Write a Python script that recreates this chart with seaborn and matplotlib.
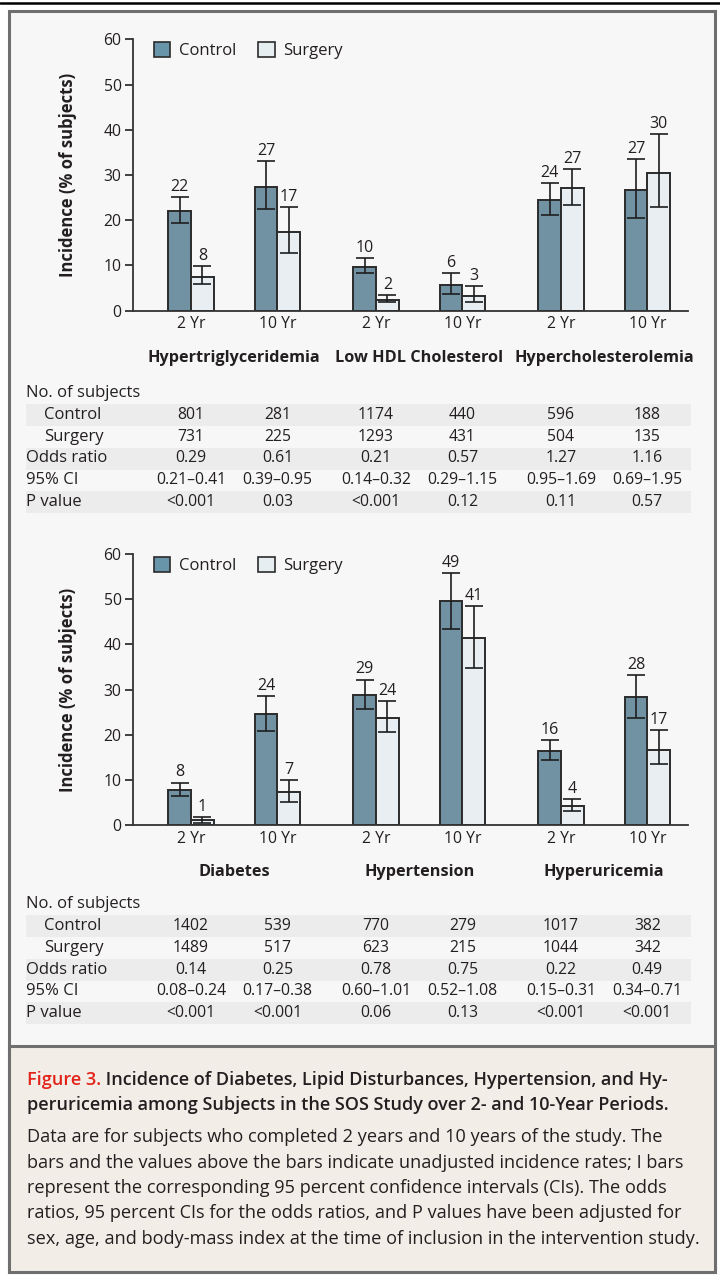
import matplotlib
matplotlib.use("Agg")
import matplotlib.pyplot as plt
import seaborn as sns
import numpy as np
import pandas as pd
from matplotlib.patches import Rectangle, Patch
from matplotlib.lines import Line2D
from matplotlib.transforms import blended_transform_factory

# ---------------- data ----------------
periods = ["2 Yr", "10 Yr"]
series = ["Control", "Surgery"]

top_groups = ["Hypertriglyceridemia", "Low HDL Cholesterol", "Hypercholesterolemia"]
top_ctrl = [22.0, 27.4, 9.7, 5.7, 24.5, 26.6]
top_ctrl_lo = [19.3, 22.4, 8.3, 3.8, 21.1, 20.5]
top_ctrl_hi = [25.2, 33.0, 11.6, 8.4, 28.3, 33.6]
top_surg = [7.5, 17.3, 2.4, 3.2, 27.2, 30.5]
top_surg_lo = [6.0, 12.7, 1.85, 1.9, 23.3, 22.9]
top_surg_hi = [9.9, 23.0, 3.5, 5.5, 31.3, 39.1]
top_ctrl_lab = ["22", "27", "10", "6", "24", "27"]
top_surg_lab = ["8", "17", "2", "3", "27", "30"]
top_n_ctrl = ["801", "281", "1174", "440", "596", "188"]
top_n_surg = ["731", "225", "1293", "431", "504", "135"]
top_or = ["0.29", "0.61", "0.21", "0.57", "1.27", "1.16"]
top_ci = ["0.21\u20130.41", "0.39\u20130.95", "0.14\u20130.32", "0.29\u20131.15", "0.95\u20131.69", "0.69\u20131.95"]
top_p = ["<0.001", "0.03", "<0.001", "0.12", "0.11", "0.57"]

bot_groups = ["Diabetes", "Hypertension", "Hyperuricemia"]
bot_ctrl = [7.8, 24.6, 28.8, 49.6, 16.4, 28.3]
bot_ctrl_lo = [6.4, 20.9, 25.6, 43.5, 14.3, 23.7]
bot_ctrl_hi = [9.4, 28.5, 32.2, 55.7, 18.9, 33.3]
bot_surg = [1.0, 7.2, 23.8, 41.5, 4.1, 16.7]
bot_surg_lo = [0.5, 5.1, 20.5, 34.8, 3.2, 13.5]
bot_surg_hi = [1.8, 9.9, 27.5, 48.5, 5.7, 21.1]
bot_ctrl_lab = ["8", "24", "29", "49", "16", "28"]
bot_surg_lab = ["1", "7", "24", "41", "4", "17"]
bot_n_ctrl = ["1402", "539", "770", "279", "1017", "382"]
bot_n_surg = ["1489", "517", "623", "215", "1044", "342"]
bot_or = ["0.14", "0.25", "0.78", "0.75", "0.22", "0.49"]
bot_ci = ["0.08\u20130.24", "0.17\u20130.38", "0.60\u20131.01", "0.52\u20131.08", "0.15\u20130.31", "0.34\u20130.71"]
bot_p = ["<0.001", "<0.001", "0.06", "0.13", "<0.001", "<0.001"]

row_labels = ["Control", "Surgery", "Odds ratio", "95% CI", "P value"]
y_ticks = [0, 10, 20, 30, 40, 50, 60]
y_label = "Incidence (% of subjects)"

caption_red = "Figure 3."
caption_title1 = " Incidence of Diabetes, Lipid Disturbances, Hypertension, and Hy-"
caption_title2 = "peruricemia among Subjects in the SOS Study over 2- and 10-Year Periods."
caption_body = [
    "Data are for subjects who completed 2 years and 10 years of the study. The",
    "bars and the values above the bars indicate unadjusted incidence rates; I bars",
    "represent the corresponding 95 percent confidence intervals (CIs). The odds",
    "ratios, 95 percent CIs for the odds ratios, and P values have been adjusted for",
    "sex, age, and body-mass index at the time of inclusion in the intervention study.",
]

# ---------------- style ----------------
sns.set_style("ticks")
plt.rcParams["font.family"] = ["Open Sans", "DejaVu Sans"]
TXT = "#231f20"
C_CTRL = "#6995ab"
C_SURG = "#e7eef2"
EDGE = "#2b2b2b"
PANEL = "#f7f7f7"
BAND = "#ececec"
FRAME = "#6f6f6f"
CAP_BG = "#f2ede7"
RED = "#e2231a"

W, H = 720, 1280
fig = plt.figure(figsize=(7.2, 12.8), dpi=100)
fx = lambda x: x / W
fy = lambda y: 1 - y / H

# background panels
fig.patches.append(Rectangle((fx(8.5), fy(1271.5)), fx(706), (1263 - 2) / H,
                             transform=fig.transFigure, facecolor=PANEL,
                             edgecolor=FRAME, linewidth=2.2, zorder=-10))
fig.patches.append(Rectangle((fx(8.5), fy(1271.5)), fx(706), (1271.5 - 1046) / H,
                             transform=fig.transFigure, facecolor=CAP_BG,
                             edgecolor=FRAME, linewidth=2.2, zorder=-9))
fig.add_artist(Line2D([0, 1], [fy(2.5), fy(2.5)], transform=fig.transFigure,
                      color="black", linewidth=1.8))

GROUP_STEP = 2.143
BAR_W = 0.526
FS_TICK = 11.3
FS_VAL = 11.5
FS_TAB_LAB = 12
FS_TAB_NUM = 11.3


def make_df(ctrl, surg):
    rows = []
    for i, (c, s) in enumerate(zip(ctrl, surg)):
        pos = (i // 2) * GROUP_STEP + (i % 2)
        rows.append({"pos": pos, "series": "Control", "value": c})
        rows.append({"pos": pos, "series": "Surgery", "value": s})
    return pd.DataFrame(rows)


def panel(ax_rect, groups, ctrl, ctrl_lo, ctrl_hi, surg, surg_lo, surg_hi,
          ctrl_lab, surg_lab, table, table_y, head_y, group_y):
    ax = fig.add_axes(ax_rect)
    ax.set_facecolor("none")
    df = make_df(ctrl, surg)
    sns.barplot(data=df, x="pos", y="value", hue="series", hue_order=series,
                native_scale=True, palette=[C_CTRL, C_SURG], width=BAR_W,
                errorbar=None, edgecolor=EDGE, linewidth=1.4, legend=False,
                ax=ax, zorder=2)
    stats = [(ctrl, ctrl_lo, ctrl_hi, ctrl_lab), (surg, surg_lo, surg_hi, surg_lab)]
    for cont, (vals, lo, hi, labs) in zip(ax.containers, stats):
        pts = sorted(cont.patches, key=lambda p: p.get_x())
        xc = np.array([p.get_x() + p.get_width() / 2 for p in pts])
        vals = np.array(vals); lo = np.array(lo); hi = np.array(hi)
        ax.errorbar(xc, vals, yerr=[vals - lo, hi - vals], fmt="none",
                    ecolor="#1e1e1e", elinewidth=1.2, capsize=6.5,
                    capthick=1.2, zorder=3)
        for x, h, lab in zip(xc, hi, labs):
            ax.annotate(lab, xy=(x, h), xytext=(0, 1.5), textcoords="offset points",
                        ha="center", va="bottom", fontsize=FS_VAL, color=TXT)
    pos = sorted(df["pos"].unique())
    ax.set_xlim(pos[0] - 0.677, pos[-1] + 0.472)
    ax.set_ylim(0, 60)
    ax.set_yticks(y_ticks)
    ax.set_xticks(pos)
    ax.set_xticklabels([periods[i % 2] for i in range(len(pos))])
    ax.tick_params(axis="x", length=0, pad=4, labelsize=FS_TICK, colors=TXT)
    ax.tick_params(axis="y", length=6, width=1.2, pad=2, labelsize=FS_TICK,
                   colors=TXT, direction="out")
    for s in ["top", "right"]:
        ax.spines[s].set_visible(False)
    for s in ["left", "bottom"]:
        ax.spines[s].set_linewidth(1.3)
        ax.spines[s].set_color("#333333")
    ax.set_xlabel("")
    ax.set_ylabel(y_label, fontsize=12, fontweight="bold", color=TXT, labelpad=19)
    handles = [Patch(facecolor=C_CTRL, edgecolor=EDGE, linewidth=1.2),
               Patch(facecolor=C_SURG, edgecolor=EDGE, linewidth=1.2)]
    ax.legend(handles, series, loc="upper left", bbox_to_anchor=(0.038, 0.99),
              ncol=2, frameon=False, handlelength=1.0, handleheight=1.0,
              handletextpad=0.5, columnspacing=1.3, borderpad=0,
              borderaxespad=0, fontsize=12, labelcolor=TXT)
    # group labels
    tr = blended_transform_factory(ax.transData, fig.transFigure)
    for g, name in enumerate(groups):
        gc = (pos[2 * g] + pos[2 * g + 1]) / 2
        fig.text(gc, fy(group_y), name, transform=tr, ha="center", va="center",
                 fontsize=11.7, fontweight="bold", color=TXT)
    # table
    fig.text(fx(26), fy(head_y), "No. of subjects", ha="left", va="center",
             fontsize=FS_TAB_LAB, color=TXT)
    for r, (lab, vals) in enumerate(zip(row_labels, table)):
        yc = table_y[r]
        if r % 2 == 0:
            fig.patches.append(Rectangle((fx(26), fy(yc + 11)), fx(665), 22 / H,
                                         transform=fig.transFigure,
                                         facecolor=BAND, edgecolor="none", zorder=-5))
        xl = 44 if r < 2 else 26
        fig.text(fx(xl), fy(yc), lab, ha="left", va="center", fontsize=FS_TAB_LAB,
                 color=TXT)
        for x, v in zip(pos, vals):
            fig.text(x, fy(yc), v, transform=tr, ha="center", va="center",
                     fontsize=FS_TAB_NUM, color=TXT)
    return ax


panel([fx(132.7), fy(310.7), fx(688 - 132.7), (310.7 - 39.3) / H], top_groups,
      top_ctrl, top_ctrl_lo, top_ctrl_hi, top_surg, top_surg_lo, top_surg_hi,
      top_ctrl_lab, top_surg_lab,
      [top_n_ctrl, top_n_surg, top_or, top_ci, top_p],
      [415, 437, 458.5, 480, 502], 393, 358)

ax2 = panel([fx(132.7), fy(825), fx(688 - 132.7), (825 - 554) / H], bot_groups,
            bot_ctrl, bot_ctrl_lo, bot_ctrl_hi, bot_surg, bot_surg_lo, bot_surg_hi,
            bot_ctrl_lab, bot_surg_lab,
            [bot_n_ctrl, bot_n_surg, bot_or, bot_ci, bot_p],
            [926, 948, 969.5, 991, 1013], 904, 872)

# caption
FS_TITLE = 13.0
FS_CAP = 13.1
t1 = fig.text(fx(27), fy(1080), caption_red, ha="left", va="center",
              fontsize=FS_TITLE, fontweight="semibold", color=RED)
ax2.annotate(caption_title1, xy=(1, 0.5), xycoords=t1, ha="left", va="center",
             fontsize=FS_TITLE, fontweight="semibold", color=TXT, annotation_clip=False)
fig.text(fx(27), fy(1105), caption_title2, ha="left", va="center",
         fontsize=FS_TITLE, fontweight="semibold", color=TXT)
for i, line in enumerate(caption_body):
    fig.text(fx(27), fy(1137 + 25.5 * i), line, ha="left", va="center",
             fontsize=FS_CAP, color=TXT)

fig.savefig("out.png", dpi=100, facecolor="white")
